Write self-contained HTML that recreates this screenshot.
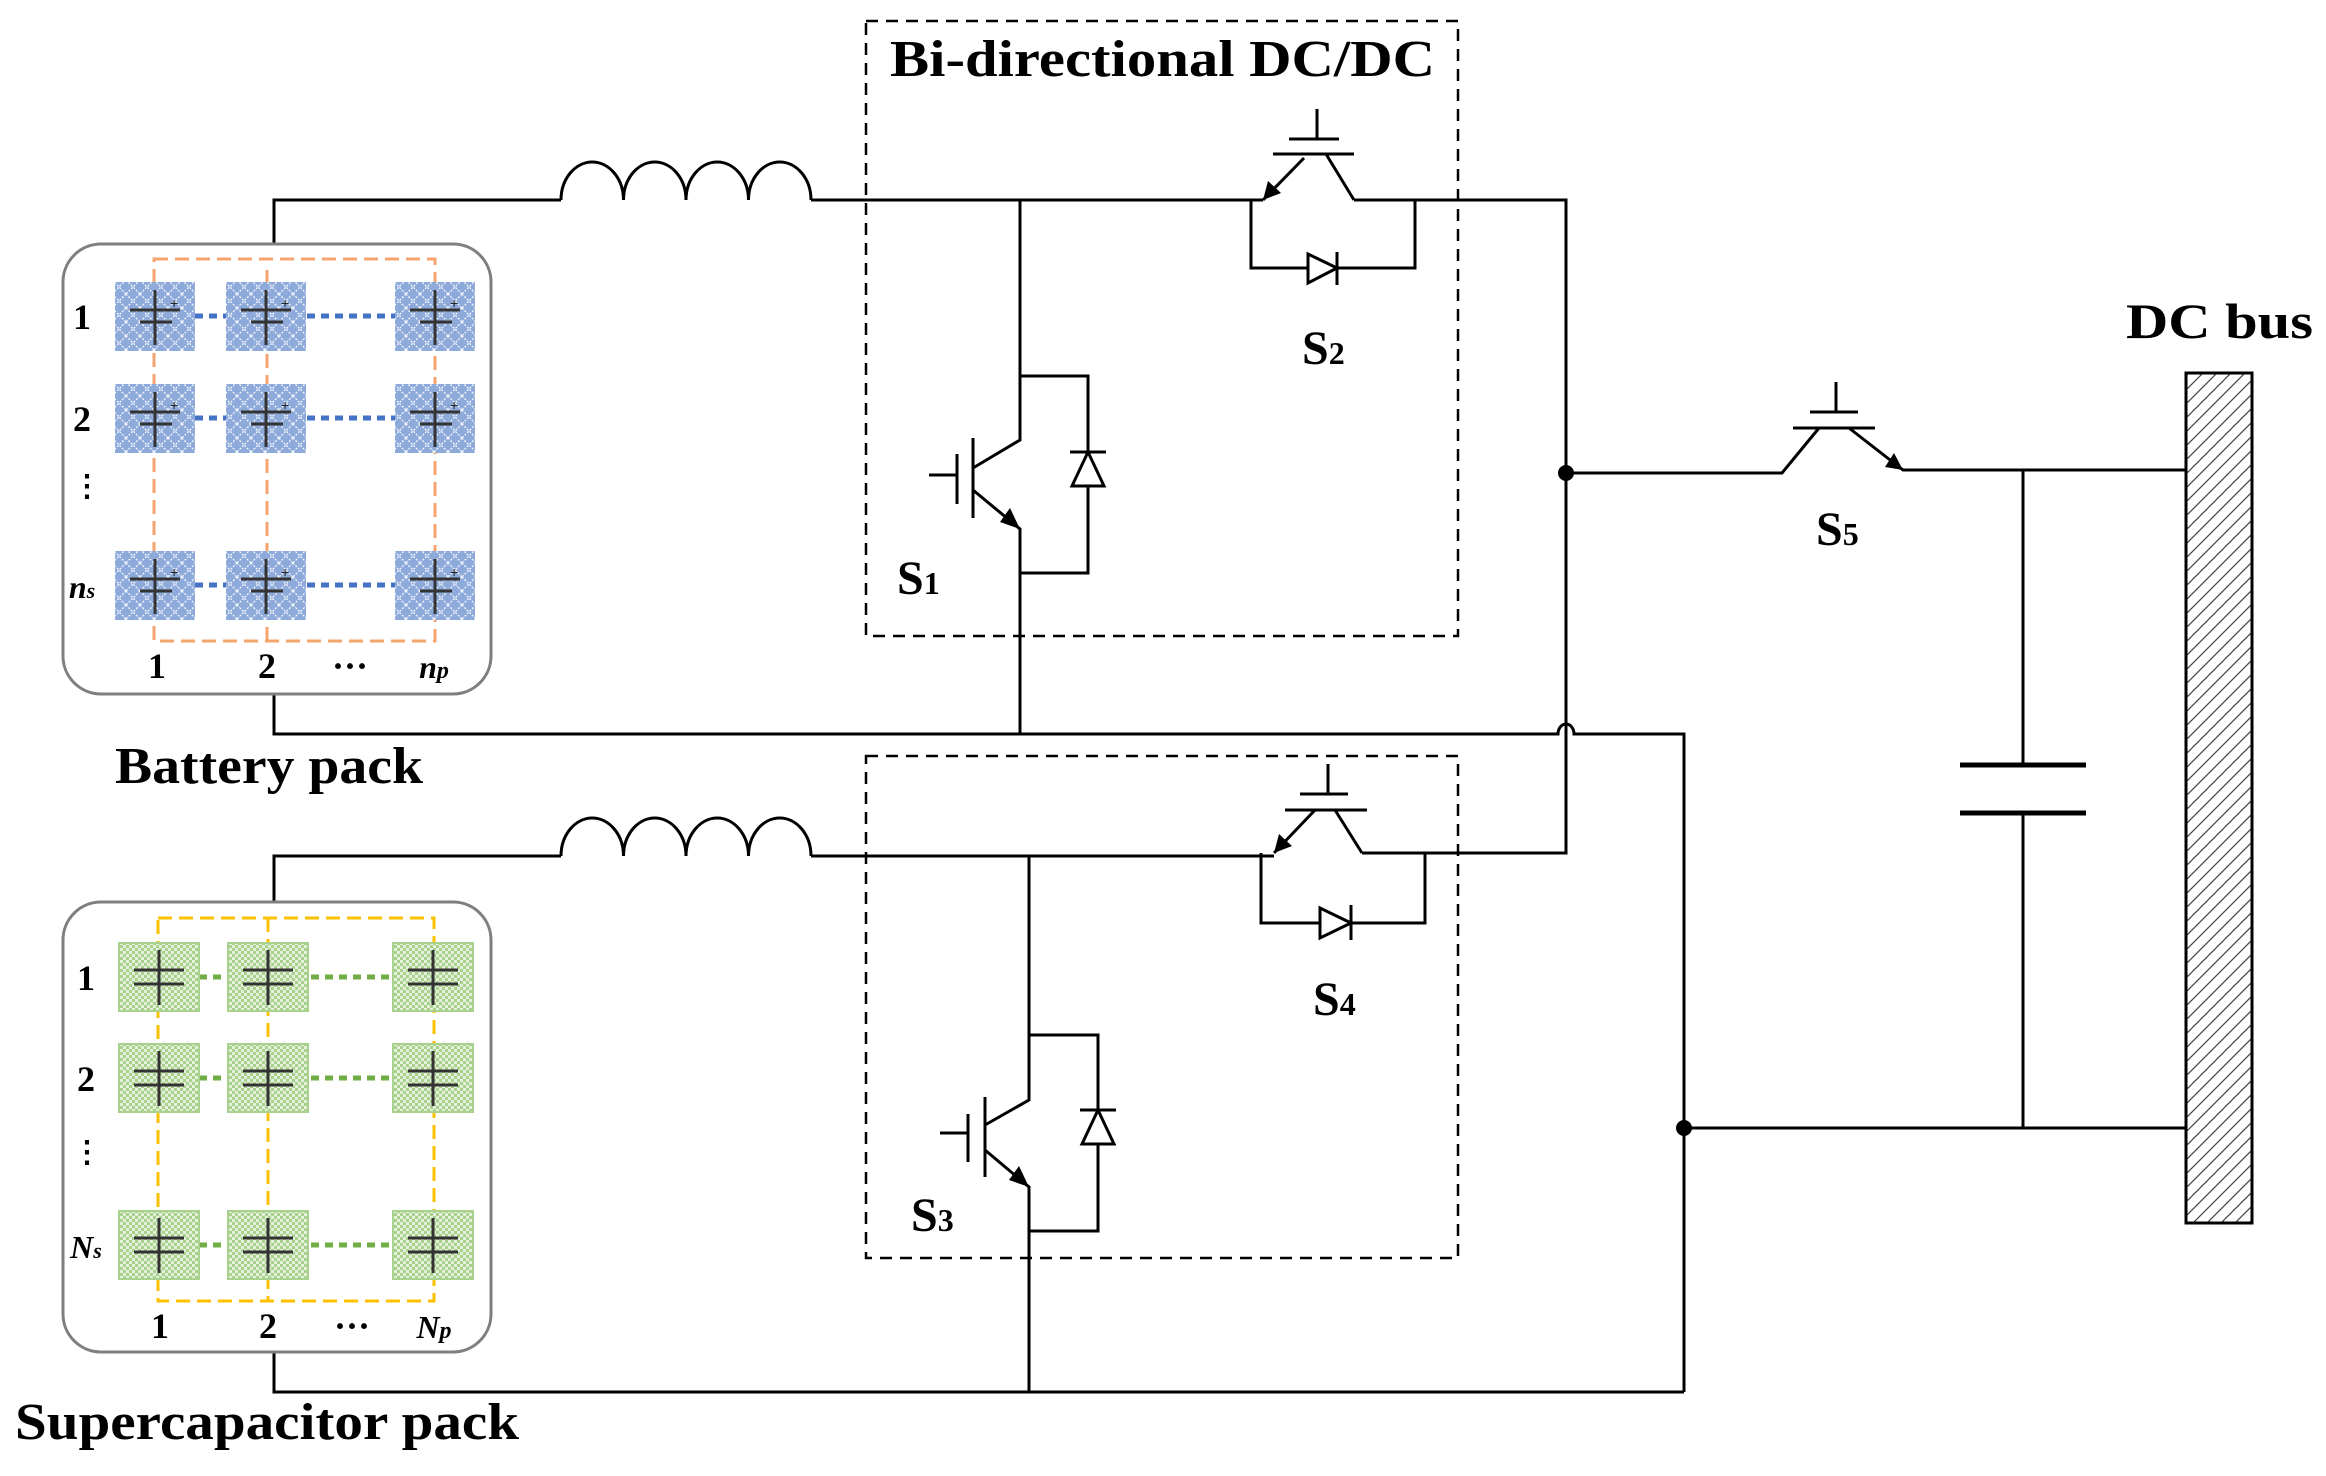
<!DOCTYPE html>
<html><head><meta charset="utf-8"><style>html,body{margin:0;padding:0;background:#fff}svg{display:block}</style></head><body>
<svg xmlns="http://www.w3.org/2000/svg" width="2326" height="1476" viewBox="0 0 2326 1476">
<defs>
<pattern id="xh" width="14" height="14" patternUnits="userSpaceOnUse">
<rect width="14" height="14" fill="#8eaadb"/>
<path d="M0 0L14 14M14 0L0 14" stroke="#fff" stroke-width="1.3" stroke-dasharray="2 1.5" opacity="0.9"/>
</pattern>
<pattern id="ck" width="6" height="6" patternUnits="userSpaceOnUse">
<rect width="6" height="6" fill="#a9d18e"/>
<rect width="3" height="3" fill="#e4f0da"/><rect x="3" y="3" width="3" height="3" fill="#e4f0da"/>
</pattern>
<pattern id="hb" width="14" height="14" patternUnits="userSpaceOnUse">
<rect width="14" height="14" fill="#fff"/>
<path d="M-2 16L16 -2M-2 2L2 -2M12 16L16 12" stroke="#444" stroke-width="1.2"/>
</pattern>
<marker id="ar" markerWidth="10" markerHeight="10" refX="9" refY="5" orient="auto" markerUnits="userSpaceOnUse">
<path d="M0 0L18 5L0 10Z" transform="scale(0.55,1)" fill="#000"/>
</marker>
</defs>

<g fill="none" stroke="#000" stroke-width="3">
<!-- battery loop -->
<path d="M274 244V200H561"/>
<path d="M561 200 A31.25 38 0 0 1 623.5 200 A31.25 38 0 0 1 686 200 A31.25 38 0 0 1 748.5 200 A31.25 38 0 0 1 811 200"/>
<path d="M811 200H1263"/>
<path d="M1354 200H1566V734"/>
<path d="M1566 734V853H1362"/>
<path d="M274 694V734H1558 A8 10 0 0 1 1574 734 H1684V1392"/>
<path d="M274 902V856H561"/>
<path d="M561 856 A31.25 38 0 0 1 623.5 856 A31.25 38 0 0 1 686 856 A31.25 38 0 0 1 748.5 856 A31.25 38 0 0 1 811 856"/>
<path d="M811 856H1274"/>
<path d="M274 1352V1392H1684"/>

<!-- S1 -->
<path d="M1020 200V440L973 468"/>
<path d="M973 490L1020 529V734" />
<path d="M973 438V518M957 454V504M929 475H957"/>
<path d="M1020 376H1088V573H1020"/>
<path d="M1088 376V573"/>
<!-- S3 -->
<path d="M1029 856V1100L985 1125"/>
<path d="M985 1150L1029 1187V1392"/>
<path d="M985 1097V1177M968 1114V1162M940 1133H968"/>
<path d="M1029 1035H1098V1231H1029"/>
<!-- S2 -->
<path d="M1304 158L1263 200"/>
<path d="M1326 154L1354 200"/>
<path d="M1273 154H1354M1289 139H1339M1317 109V139"/>
<path d="M1251 200V268H1415V200"/>
<!-- S4 -->
<path d="M1315 810L1274 853"/>
<path d="M1335 810L1362 853"/>
<path d="M1285 810H1367M1300 794H1348M1328 764V794"/>
<path d="M1261 853V923H1425V853"/>
<!-- S5 -->
<path d="M1566 473H1782L1819 428"/>
<path d="M1793 428H1875M1810 412H1858M1836 382V412"/>
<path d="M1849 428L1903 470H2186"/>
<path d="M2023 470V765M2023 813V1128"/>
<path d="M1684 1128H2186"/>
<path d="M1960 765H2086M1960 813H2086" stroke-width="5"/>
</g>
<!-- arrows -->
<g fill="#000">
<path d="M1020 529L1000 522L1010 508Z"/>
<path d="M1029 1187L1009 1180L1019 1166Z"/>
<path d="M1263 200L1268 181L1281 193Z"/>
<path d="M1274 853L1279 834L1292 846Z"/>
<path d="M1903 470L1885 467L1894 453Z"/>
<circle cx="1566" cy="473" r="8"/>
<circle cx="1684" cy="1128" r="8"/>
</g>
<!-- diodes -->
<g fill="#fff" stroke="#000" stroke-width="3">
<path d="M1088 452L1072 486H1104Z"/><path d="M1070 452H1106"/>
<path d="M1098 1110L1082 1144H1114Z"/><path d="M1080 1110H1116"/>
<path d="M1337 268L1308 254V283Z"/><path d="M1337 252V285"/>
<path d="M1351 923L1320 908V938Z"/><path d="M1351 905V940"/>
</g>
<!-- dashed boxes -->
<g fill="none" stroke="#000" stroke-width="2.5" stroke-dasharray="12 8">
<rect x="866" y="21" width="592" height="615"/>
<rect x="866" y="756" width="592" height="502"/>
</g>
<!-- DC bus -->
<rect x="2186" y="373" width="66" height="850" fill="url(#hb)" stroke="#000" stroke-width="3"/>

<!-- battery pack -->
<rect x="63" y="244" width="428" height="450" rx="38" fill="#fff" stroke="#7f7f7f" stroke-width="3"/>
<g fill="none" stroke="#f4a46c" stroke-width="3" stroke-dasharray="14 7">
<rect x="154" y="259" width="281" height="382"/>
<path d="M267 270V641"/>
</g>
<g stroke="#4472c4" stroke-width="5" stroke-dasharray="8 6">
<path d="M195 316H395M195 418H395M195 585H395"/>
</g>
<g id="bc">
<rect x="115" y="282" width="80" height="69" fill="url(#xh)"/>
<path d="M155 290V345M130 310H180M140 322H172" stroke="#333" stroke-width="3"/>
<text x="170" y="308" font-size="14" font-family="Liberation Sans,sans-serif" fill="#222">+</text>
</g>
<use href="#bc" x="111"/><use href="#bc" x="280"/>
<use href="#bc" y="102"/><use href="#bc" x="111" y="102"/><use href="#bc" x="280" y="102"/>
<use href="#bc" y="269"/><use href="#bc" x="111" y="269"/><use href="#bc" x="280" y="269"/>
<g font-family="Liberation Serif,serif" font-weight="bold" font-size="36" fill="#000" text-anchor="middle">
<text x="82" y="329">1</text><text x="82" y="431">2</text>
<text x="82" y="598" font-style="italic" font-size="32">n<tspan font-size="22">s</tspan></text>
<text x="157" y="678">1</text><text x="267" y="678">2</text><text x="350" y="678">···</text>
<text x="434" y="678" font-style="italic" font-size="32">n<tspan font-size="24">p</tspan></text>
<text x="87" y="496" font-size="30">⋮</text>
</g>

<!-- supercap pack -->
<rect x="63" y="902" width="428" height="450" rx="38" fill="#fff" stroke="#7f7f7f" stroke-width="3"/>
<g fill="none" stroke="#ffc000" stroke-width="3" stroke-dasharray="14 7">
<rect x="158" y="918" width="276" height="383"/>
<path d="M268 918V1301"/>
</g>
<g stroke="#70ad47" stroke-width="5" stroke-dasharray="8 6">
<path d="M199 977H393M199 1078H393M199 1245H393"/>
</g>
<g id="sc">
<rect x="119" y="943" width="80" height="68" fill="url(#ck)" stroke="#a9d18e" stroke-width="2"/>
<path d="M159 950V1005M134 970H184M134 984H184" stroke="#333" stroke-width="3"/>
</g>
<use href="#sc" x="109"/><use href="#sc" x="274"/>
<use href="#sc" y="101"/><use href="#sc" x="109" y="101"/><use href="#sc" x="274" y="101"/>
<use href="#sc" y="268"/><use href="#sc" x="109" y="268"/><use href="#sc" x="274" y="268"/>
<g font-family="Liberation Serif,serif" font-weight="bold" font-size="36" fill="#000" text-anchor="middle">
<text x="86" y="990">1</text><text x="86" y="1091">2</text>
<text x="86" y="1258" font-style="italic" font-size="32">N<tspan font-size="22">s</tspan></text>
<text x="160" y="1338">1</text><text x="268" y="1338">2</text><text x="352" y="1338">···</text>
<text x="434" y="1338" font-style="italic" font-size="32">N<tspan font-size="24">p</tspan></text>
<text x="87" y="1162" font-size="30">⋮</text>
</g>

<!-- labels -->
<g font-family="Liberation Serif,serif" font-weight="bold" fill="#000">
<text x="890" y="76" font-size="52" textLength="545" lengthAdjust="spacingAndGlyphs">Bi-directional DC/DC</text>
<text x="115" y="783" font-size="52" textLength="308" lengthAdjust="spacingAndGlyphs">Battery pack</text>
<text x="15" y="1439" font-size="52" textLength="504" lengthAdjust="spacingAndGlyphs">Supercapacitor pack</text>
<text x="2126" y="338" font-size="50" textLength="187" lengthAdjust="spacingAndGlyphs">DC bus</text>
<text x="897" y="594" font-size="48">S<tspan font-size="32">1</tspan></text>
<text x="1302" y="364" font-size="48">S<tspan font-size="32">2</tspan></text>
<text x="911" y="1231" font-size="48">S<tspan font-size="32">3</tspan></text>
<text x="1313" y="1015" font-size="48">S<tspan font-size="32">4</tspan></text>
<text x="1816" y="545" font-size="48">S<tspan font-size="32">5</tspan></text>
</g>
</svg>
</body></html>
